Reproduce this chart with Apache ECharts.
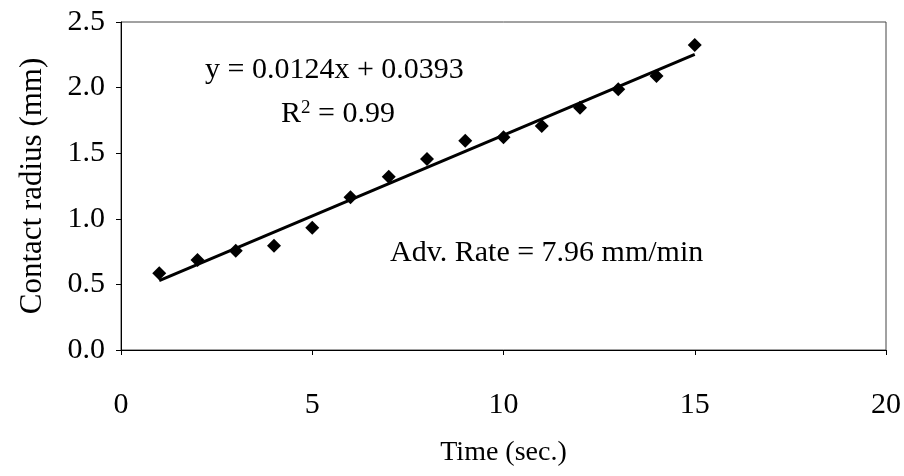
<!DOCTYPE html>
<html><head><meta charset="utf-8">
<script src="https://cdn.jsdelivr.net/npm/echarts@6/dist/echarts.min.js"></script>
<style>html,body{margin:0;padding:0;background:#fff}#c{width:904px;height:476px}</style>
</head><body><div id="c"></div>
<script>
const times = [1,2,3,4,5,6,7,8,9,10,11,12,13,14,15];
const radius = [0.585,0.686,0.757,0.795,0.932,1.164,1.321,1.456,1.595,1.621,1.707,1.847,1.987,2.088,2.325];
const xTicks = [0,5,10,15,20];
const yTicks = [0,0.5,1.0,1.5,2.0,2.5];
const eqText = 'y = 0.0124x + 0.0393';
const r2Text = '0.99';
const rateText = 'Adv. Rate = 7.96 mm/min';

// least-squares trend line from the data
const n = times.length;
const mx = times.reduce((a,b)=>a+b,0)/n, my = radius.reduce((a,b)=>a+b,0)/n;
let sxy=0, sxx=0;
for (let i=0;i<n;i++){ sxy+=(times[i]-mx)*(radius[i]-my); sxx+=(times[i]-mx)**2; }
const slope = sxy/sxx, icpt = my - slope*mx;
const trend = [[times[0], icpt+slope*times[0]], [times[n-1], icpt+slope*times[n-1]]];

const font = 'Liberation Serif';
const chart = echarts.init(document.getElementById('c'));
chart.setOption({
  animation:false,
  grid:{left:121,right:18,top:22,bottom:126,show:true,borderColor:'#444',borderWidth:1},
  xAxis:{type:'value',min:xTicks[0],max:xTicks[xTicks.length-1],interval:xTicks[1]-xTicks[0],
    name:'Time (sec.)',nameLocation:'middle',nameGap:89,
    nameTextStyle:{fontFamily:font,fontSize:28,color:'#000'},
    axisLine:{lineStyle:{color:'#000',width:1}},
    axisTick:{show:true,length:5,lineStyle:{color:'#000'}},
    axisLabel:{margin:40,fontFamily:font,fontSize:30,color:'#000'},
    splitLine:{show:false}},
  yAxis:{type:'value',min:yTicks[0],max:yTicks[yTicks.length-1],interval:yTicks[1]-yTicks[0],
    name:'Contact radius (mm)',nameLocation:'middle',nameGap:73,
    nameTextStyle:{fontFamily:font,fontSize:31,color:'#000'},
    axisLine:{show:true,lineStyle:{color:'#000',width:1}},
    axisTick:{show:true,length:5,lineStyle:{color:'#000'}},
    axisLabel:{margin:16,fontFamily:font,fontSize:30,color:'#000',formatter:v=>v.toFixed(1)},
    splitLine:{show:false}},
  series:[
    {type:'line',data:trend,symbol:'none',lineStyle:{color:'#000',width:3},z:2},
    {type:'scatter',data:times.map((t,i)=>[t,radius[i]]),symbol:'diamond',symbolSize:[14,14],
      itemStyle:{color:'#000',opacity:1},z:3}
  ],
  graphic:[
    {type:'text',x:205,y:70,style:{text:eqText,fontFamily:font,fontSize:30,fill:'#000',verticalAlign:'middle'}},
    {type:'text',x:281,y:114,style:{text:'{a|R}{s|2}{a| = '+r2Text+'}',fontFamily:font,fill:'#000',verticalAlign:'middle',
      rich:{a:{fontFamily:font,fontSize:30,fill:'#000',verticalAlign:'bottom'},s:{fontFamily:font,fontSize:19,fill:'#000',verticalAlign:'top',padding:[0,0,12,0]}}}},
    {type:'text',x:390,y:253,style:{text:rateText,fontFamily:font,fontSize:30,fill:'#000',verticalAlign:'middle'}}
  ]
});
</script></body></html>
